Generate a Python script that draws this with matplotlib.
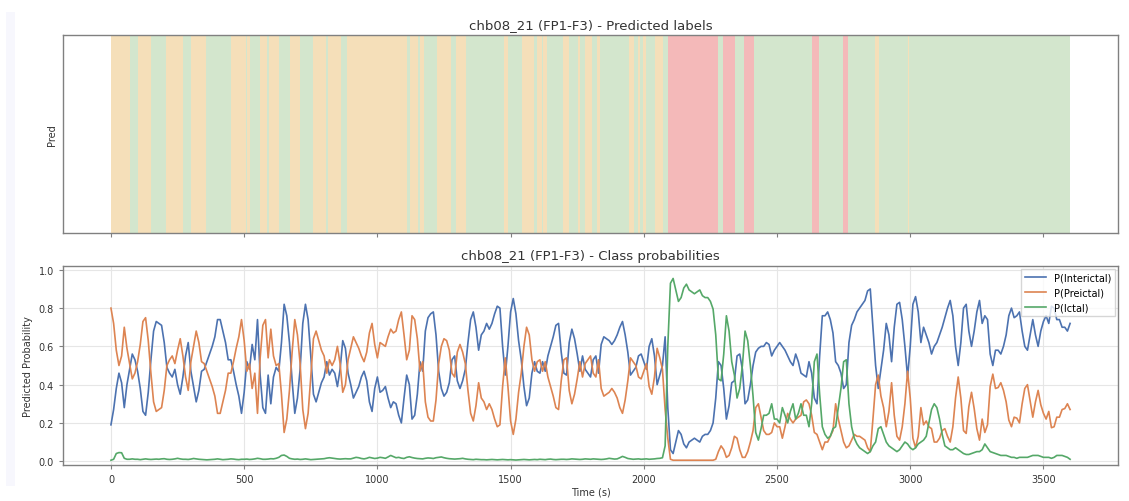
import numpy as np
import matplotlib
matplotlib.use("Agg")
import matplotlib.pyplot as plt
from matplotlib.patches import Rectangle

# ---------------- data ----------------
time_step = 10  # seconds between samples
p_interictal = [
    .19, .27, .38, .46, .41, .28, .40, .48, .56, .53,
    .47, .38, .26, .24, .36, .53, .68, .73, .72, .71,
    .62, .49, .46, .44, .48, .40, .35, .44, .55, .62,
    .47, .39, .31, .37, .47, .48, .52, .56, .60, .65,
    .74, .74, .68, .62, .53, .53, .47, .40, .34, .25,
    .36, .52, .48, .61, .53, .74, .45, .28, .25, .45,
    .30, .44, .49, .47, .62, .82, .76, .62, .42, .25,
    .33, .48, .72, .82, .74, .55, .35, .31, .36, .41,
    .44, .52, .45, .48, .46, .39, .48, .63, .59, .46,
    .40, .33, .36, .39, .44, .47, .42, .31, .26, .38,
    .44, .36, .37, .39, .33, .28, .31, .30, .24, .20,
    .33, .45, .40, .22, .24, .35, .52, .47, .68, .75,
    .77, .78, .66, .47, .38, .34, .36, .41, .53, .55,
    .42, .38, .42, .48, .62, .74, .78, .70, .58, .66,
    .68, .72, .69, .72, .77, .81, .80, .60, .45, .60,
    .78, .85, .77, .63, .53, .39, .29, .33, .46, .52,
    .47, .46, .52, .47, .55, .60, .65, .71, .72, .57,
    .46, .45, .62, .69, .64, .56, .47, .55, .48, .46,
    .44, .53, .55, .46, .61, .65, .64, .63, .61, .63,
    .66, .70, .73, .66, .57, .45, .47, .49, .55, .56,
    .52, .48, .60, .64, .55, .40, .45, .50, .65, .28,
    .06, .04, .10, .16, .14, .09, .07, .10, .11, .12,
    .11, .10, .13, .14, .14, .16, .20, .33, .52, .50,
    .38, .22, .29, .41, .42, .55, .56, .48, .30, .32,
    .40, .50, .57, .59, .60, .60, .62, .61, .55, .58,
    .60, .62, .60, .58, .55, .52, .50, .56, .52, .46,
    .45, .44, .52, .46, .33, .30, .55, .76, .76, .78,
    .74, .67, .52, .50, .46, .38, .40, .62, .71, .74,
    .78, .80, .82, .84, .89, .90, .70, .50, .38, .48,
    .58, .72, .66, .52, .70, .82, .83, .74, .60, .44,
    .60, .82, .86, .78, .62, .70, .66, .62, .56, .60,
    .62, .66, .70, .75, .80, .84, .76, .60, .50, .62,
    .80, .82, .68, .60, .68, .78, .84, .72, .76, .74,
    .56, .50, .58, .58, .56, .60, .66, .76, .80, .75,
    .76, .78, .68, .60, .58, .66, .74, .66, .60, .68,
    .73, .76, .72, .81, .80, .74, .74, .70, .70, .68,
    .72,
]
p_preictal = [
    .80, .72, .58, .50, .55, .70, .59, .51, .43, .46,
    .52, .61, .73, .75, .63, .46, .31, .26, .27, .28,
    .37, .50, .53, .55, .51, .58, .64, .55, .44, .37,
    .52, .60, .68, .62, .52, .51, .47, .43, .39, .34,
    .25, .25, .31, .37, .46, .46, .52, .59, .65, .74,
    .63, .47, .51, .38, .46, .25, .54, .71, .74, .54,
    .69, .55, .50, .51, .35, .15, .22, .37, .57, .74,
    .66, .51, .27, .17, .25, .44, .64, .68, .63, .58,
    .55, .46, .53, .50, .53, .60, .51, .36, .40, .53,
    .59, .65, .62, .59, .55, .52, .57, .67, .72, .61,
    .54, .62, .61, .60, .65, .69, .67, .68, .74, .78,
    .66, .53, .58, .76, .74, .64, .47, .52, .31, .23,
    .21, .21, .32, .51, .60, .64, .63, .58, .46, .44,
    .57, .61, .57, .51, .37, .25, .21, .29, .41, .33,
    .31, .27, .30, .27, .22, .18, .19, .39, .54, .39,
    .21, .14, .22, .36, .46, .60, .70, .66, .53, .47,
    .52, .53, .47, .52, .44, .39, .34, .28, .27, .42,
    .53, .54, .37, .30, .35, .43, .52, .44, .51, .53,
    .55, .46, .44, .53, .38, .34, .35, .36, .38, .36,
    .33, .28, .25, .32, .42, .54, .52, .50, .44, .43,
    .47, .51, .39, .35, .44, .59, .54, .48, .27, .12,
    .01, .005, .005, .005, .005, .005, .005, .005, .005, .005,
    .005, .005, .005, .005, .005, .005, .005, .01, .05, .08,
    .06, .02, .03, .07, .13, .12, .06, .02, .02, .05,
    .10, .16, .28, .30, .23, .16, .14, .14, .15, .20,
    .18, .18, .12, .18, .25, .22, .20, .22, .23, .24,
    .31, .32, .30, .24, .15, .14, .10, .06, .10, .10,
    .13, .16, .30, .22, .16, .10, .07, .08, .11, .14,
    .13, .13, .12, .11, .07, .05, .22, .40, .45, .34,
    .28, .18, .26, .41, .24, .13, .11, .18, .30, .47,
    .33, .12, .07, .13, .28, .19, .21, .18, .17, .10,
    .10, .12, .16, .17, .13, .10, .18, .33, .44, .33,
    .16, .145, .285, .36, .275, .17, .11, .22, .15, .19,
    .39, .455, .38, .385, .41, .37, .31, .215, .18, .23,
    .225, .20, .30, .38, .40, .315, .23, .31, .37, .295,
    .25, .22, .26, .175, .18, .23, .23, .27, .275, .30,
    .27,
]
p_ictal = [
    .005, .01, .04, .045, .044, .015, .01, .01, .012, .01,
    .01, .008, .01, .012, .01, .009, .01, .011, .01, .012,
    .013, .01, .009, .01, .012, .015, .012, .01, .01, .009,
    .011, .014, .012, .01, .009, .008, .007, .008, .009, .01,
    .012, .01, .008, .009, .01, .012, .011, .009, .008, .01,
    .01, .011, .009, .01, .012, .015, .013, .01, .01, .011,
    .013, .012, .015, .02, .03, .032, .025, .015, .012, .01,
    .011, .009, .01, .012, .01, .008, .009, .01, .011, .012,
    .013, .016, .018, .016, .014, .012, .011, .012, .013, .012,
    .012, .016, .02, .018, .014, .012, .015, .02, .017, .014,
    .016, .02, .018, .015, .022, .03, .024, .018, .02, .016,
    .014, .02, .023, .019, .016, .014, .013, .012, .015, .017,
    .016, .014, .018, .02, .022, .018, .015, .013, .012, .011,
    .012, .013, .015, .012, .01, .009, .008, .01, .009, .008,
    .008, .007, .008, .009, .008, .007, .008, .009, .008, .007,
    .008, .007, .006, .007, .008, .009, .008, .007, .008, .009,
    .008, .01, .009, .008, .01, .011, .009, .008, .009, .01,
    .01, .009, .01, .012, .011, .01, .009, .01, .012, .011,
    .01, .012, .011, .01, .009, .01, .012, .015, .013, .011,
    .012, .018, .025, .02, .014, .012, .01, .011, .012, .01,
    .011, .012, .01, .011, .012, .014, .015, .018, .08, .60,
    .93, .955, .895, .835, .855, .905, .925, .895, .885, .875,
    .885, .895, .865, .855, .855, .835, .795, .66, .43, .42,
    .56, .76, .68, .52, .45, .33, .38, .50, .68, .63,
    .50, .34, .15, .11, .17, .24, .24, .25, .30, .22,
    .22, .20, .28, .24, .20, .26, .30, .22, .25, .30,
    .24, .24, .18, .30, .52, .56, .35, .18, .14, .12,
    .13, .17, .18, .28, .38, .52, .53, .30, .18, .12,
    .09, .07, .06, .05, .04, .05, .08, .10, .17, .18,
    .14, .10, .08, .07, .06, .05, .06, .08, .10, .09,
    .07, .06, .07, .09, .10, .11, .13, .20, .27, .30,
    .28, .22, .14, .08, .07, .06, .06, .07, .06, .05,
    .04, .035, .035, .04, .045, .05, .05, .06, .09, .07,
    .05, .045, .04, .035, .03, .03, .03, .025, .02, .02,
    .015, .02, .02, .02, .02, .025, .03, .03, .03, .025,
    .02, .02, .02, .015, .02, .03, .03, .03, .025, .02,
    .01,
]

# predicted-label segments: boundaries (s) and label of each segment
seg_bounds = [0, 71, 100, 152, 206, 271, 300, 355, 452, 505, 512, 522, 559,
              584, 592, 630, 671, 711, 759, 809, 816, 865, 886, 1112, 1121,
              1152, 1161, 1174, 1225, 1275, 1294, 1331, 1474, 1490, 1544,
              1587, 1599, 1616, 1622, 1637, 1696, 1719, 1753, 1762, 1780,
              1805, 1824, 1836, 1944, 1965, 1977, 1986, 1996, 2008, 2043,
              2071, 2089, 2277, 2296, 2343, 2375, 2415, 2633, 2656, 2746,
              2765, 2868, 2883, 2990, 2995, 3600]
seg_labels = ["P", "I", "P", "I", "P", "I", "P", "I", "P", "I", "P", "I",
              "P", "I", "P", "I", "P", "I", "P", "I", "P", "I", "P", "I",
              "P", "I", "P", "I", "P", "I", "P", "I", "P", "I", "P", "I",
              "P", "I", "P", "I", "P", "I", "P", "I", "P", "I", "P", "I",
              "P", "I", "P", "I", "P", "I", "P", "I", "C", "I", "C", "I",
              "C", "I", "C", "I", "C", "I", "P", "I", "P", "I"]

series_names = ["P(Interictal)", "P(Preictal)", "P(Ictal)"]

# ---------------- style ----------------
label_colors = {"I": "#d3e6cd", "P": "#f5dfb9", "C": "#f4b9b9"}
line_colors = ["#4c72b0", "#dd8452", "#55a868"]
spine_col = "#808080"
text_col = "#333333"

plt.rcParams["font.family"] = ["DejaVu Sans"]

fig = plt.figure(figsize=(11.29, 5.02), dpi=100)
fig.patches.append(Rectangle((0.0053, 0.03), 0.008, 0.944, transform=fig.transFigure,
                             facecolor="#f7f7fd", edgecolor="none", zorder=0))

ax1 = fig.add_axes([0.0558, 0.5339, 0.9345, 0.3944])
ax2 = fig.add_axes([0.0558, 0.0717, 0.9345, 0.3964], sharex=ax1)

t = np.arange(len(p_interictal)) * time_step

# top: predicted labels
for i, lab in enumerate(seg_labels):
    ax1.axvspan(seg_bounds[i], seg_bounds[i + 1], color=label_colors[lab], lw=0)
ax1.set_yticks([])
ax1.set_ylim(0, 1)
ax1.set_ylabel("Pred", fontsize=7, color=text_col)
ax1.set_title("chb08_21 (FP1-F3) - Predicted labels", fontsize=9.5, color=text_col, pad=5)
ax1.tick_params(axis="x", labelbottom=False, length=3, color=spine_col)

# bottom: probabilities
for vals, name, c in zip([p_interictal, p_preictal, p_ictal], series_names, line_colors):
    ax2.plot(t, vals, color=c, lw=1.2, label=name)
ax2.set_xlim(-180, 3780)
ax2.set_ylim(-0.02, 1.02)
ax2.set_xticks(np.arange(0, 3501, 500))
ax2.set_yticks([0.0, 0.2, 0.4, 0.6, 0.8, 1.0])
ax2.grid(True, color="#e6e6e6", lw=0.8)
ax2.set_axisbelow(True)
ax2.set_title("chb08_21 (FP1-F3) - Class probabilities", fontsize=9.5, color=text_col, pad=5)
ax2.set_xlabel("Time (s)", fontsize=7, color=text_col, labelpad=2)
ax2.set_ylabel("Predicted Probability", fontsize=7, color=text_col)
ax2.tick_params(labelsize=7, colors=text_col, length=3)
ax2.tick_params(color=spine_col)
leg = ax2.legend(loc="upper right", fontsize=7, frameon=True, fancybox=False,
                 handlelength=2.2, borderaxespad=0.3)
leg.get_frame().set_edgecolor("#cccccc")

for ax in (ax1, ax2):
    for s in ax.spines.values():
        s.set_color(spine_col)
        s.set_linewidth(1.0)

fig.savefig("out.png", dpi=100)
